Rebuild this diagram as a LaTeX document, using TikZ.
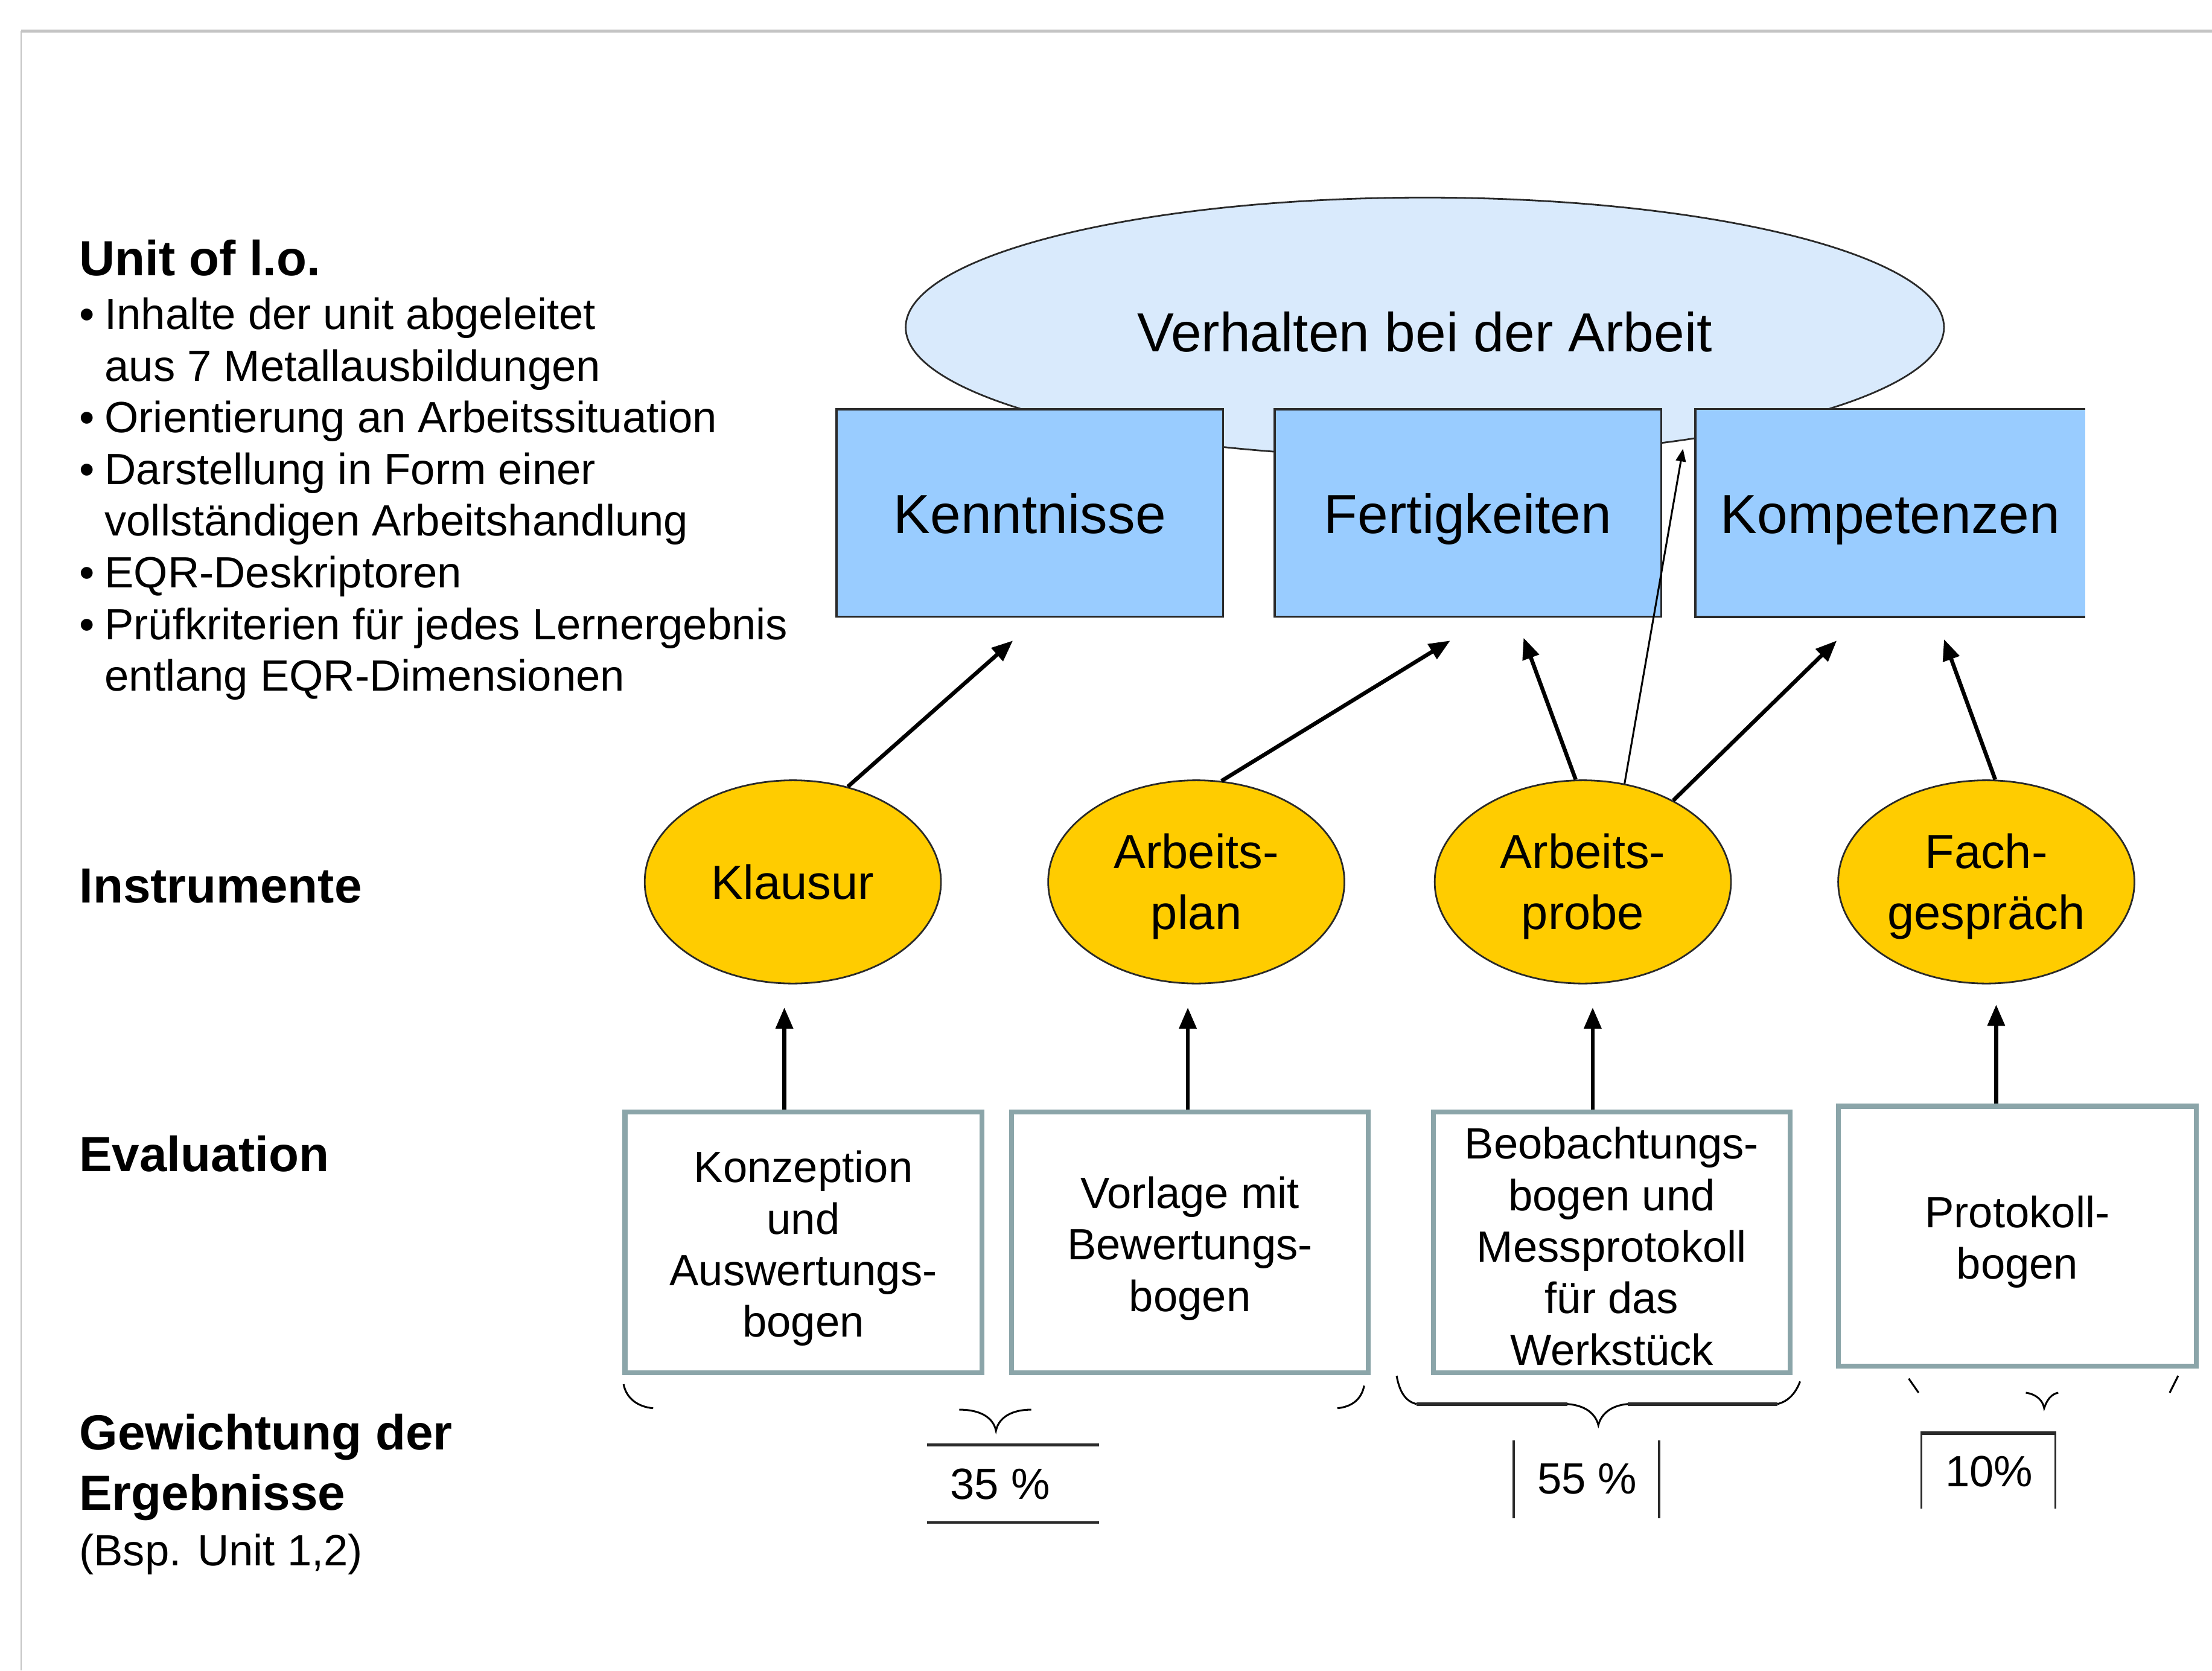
\documentclass[tikz,border=0pt]{standalone}
\usepackage{fontspec}
\setmainfont{Liberation Sans}
\usetikzlibrary{shapes.geometric,arrows.meta,calc}
\definecolor{ellblue}{HTML}{D9EAFC}
\definecolor{boxblue}{HTML}{99CCFF}
\definecolor{instyellow}{HTML}{FFCC00}
\definecolor{evalborder}{HTML}{8BA5A9}
\definecolor{framegray}{HTML}{C4C4C4}
\definecolor{darkline}{HTML}{2A2A2A}
\newcommand\tstr[1]{\rule{0pt}{#1}}
\begin{document}
\begin{tikzpicture}[x=1pt,y=-1pt,
  bigfont/.style={font=\fontsize{39}{46}\selectfont},
  headfont/.style={font=\fontsize{35}{41}\selectfont\bfseries},
  listfont/.style={font=\fontsize{31}{37}\selectfont},
  txt/.style={inner sep=0pt, anchor=base west},
  kbox/.style={rectangle, fill=boxblue, draw=darkline, line width=1.5pt,
    minimum width=274, minimum height=147, inner sep=0pt, bigfont,
    text height=37pt, text depth=8pt},
  kboxopen/.style={rectangle, fill=boxblue, minimum width=276,
    minimum height=147, inner sep=0pt, bigfont,
    text height=37pt, text depth=8pt},
  inst/.style={ellipse, fill=instyellow, draw=darkline, line width=1.2pt,
    minimum width=210, minimum height=144, inner sep=0pt, align=center,
    font=\fontsize{34}{43}\selectfont},
  evalbox/.style={rectangle, fill=white, draw=evalborder, line width=3.5pt,
    minimum width=253, minimum height=185, inner sep=0pt, align=center,
    font=\fontsize{31}{36.5}\selectfont},
  arr/.style={line width=2.8pt, -{Triangle[length=15pt,width=12pt]}},
  thinarr/.style={line width=1.3pt, -{Triangle[length=9pt,width=7pt]}},
  bracepen/.style={line width=1.3pt, black},
  pctline/.style={line width=2pt, darkline},
  pct/.style={inner sep=0pt, font=\fontsize{31}{37}\selectfont}
]
\useasboundingbox (0,0) rectangle (1568,1184);
\fill[white] (0,0) rectangle (1568,1184);
% frame
\draw[framegray, line width=2pt] (15,22) -- (1568,22);
\draw[framegray, line width=1pt] (15,22) -- (15,1184);

% top ellipse
\node[ellipse, fill=ellblue, draw=darkline, line width=1.2pt,
  minimum width=736, minimum height=184, inner sep=0pt, bigfont,
  text height=34.5pt, text depth=0pt]
  (verh) at (1010,232) {Verhalten bei der Arbeit};

% knowledge boxes
\node[kbox] (kenn) at (730,363.5) {Kenntnisse};
\node[kbox] (fert) at (1040.5,363.5) {Fertigkeiten};
\node[kboxopen] (komp) at (1340,363.5) {Kompetenzen};
\draw[darkline, line width=1.5pt] (komp.north east) -- (komp.north west)
  -- (komp.south west) -- (komp.south east);

% instruments
\node[inst] (klaus) at (562,625) {Klausur};
\node[inst] (aplan) at (848,625) {\tstr{31pt}Arbeits-\\plan};
\node[inst] (aprobe) at (1122,625) {\tstr{31pt}Arbeits-\\probe};
\node[inst] (fach) at (1408,625) {\tstr{31pt}Fach-\\gespräch};

% evaluation boxes
\node[evalbox] (e1) at (569.5,880.5) {\tstr{31pt}Konzeption\\und\\Auswertungs-\\bogen};
\node[evalbox] (e2) at (843.5,880.5) {\tstr{31pt}Vorlage mit\\Bewertungs-\\bogen};
\node[evalbox] (e3) at (1142.5,880.5) {\tstr{28pt}Beobachtungs-\\bogen und\\Messprotokoll\\für das\\Werkstück};
\node[evalbox, minimum width=254, minimum height=184] (e4) at (1430,876) {\tstr{31pt}Protokoll-\\bogen};

% arrow tips
\coordinate (t1) at (718,454);
\coordinate (t2) at (1028,454);
\coordinate (t3) at (1080,452);
\coordinate (t4) at (1193,318);
\coordinate (t5) at (1302,454);
\coordinate (t6) at (1378,453);
\draw[arr] (klaus.60) -- (t1);
\draw[arr] (aplan.76) -- (t2);
\draw[arr] (aprobe.94) -- (t3);
\draw[thinarr] (aprobe.67) -- (t4);
\draw[arr] (aprobe.42) -- (t5);
\draw[arr] (fach.85) -- (t6);

\coordinate (u1) at (556,714);
\coordinate (u2) at (842,714);
\coordinate (u3) at (1129,714);
\coordinate (u4) at (1415,712);
\draw[arr] (e1.north -| u1) -- (u1);
\draw[arr] (e2.north -| u2) -- (u2);
\draw[arr] (e3.north -| u3) -- (u3);
\draw[arr] (e4.north -| u4) -- (u4);

% left texts
\node[txt, headfont] (unit) at (56,195.5) {Unit of l.o.};
\foreach \yy/\tt/\bb [count=\i] in {
  233.5/Inhalte der unit abgeleitet/1,
  270.1/aus 7 Metallausbildungen/0,
  306.7/Orientierung an Arbeitssituation/1,
  343.3/Darstellung in Form einer/1,
  379.9/vollständigen Arbeitshandlung/0,
  416.5/EQR-Deskriptoren/1,
  453.1/Prüfkriterien für jedes Lernergebnis/1,
  489.7/entlang EQR-Dimensionen/0}{
  \node[txt, listfont] (li\i) at (74,\yy) {\tt};
  \ifnum\bb=1 \node[txt, listfont] (bu\i) at (56,\yy) {•};\fi
}
\node[txt, headfont] (instr) at (56,640) {Instrumente};
\node[txt, headfont] (evalu) at (56,830) {Evaluation};
\node[txt, headfont] (gew1) at (56,1027.5) {Gewichtung der};
\node[txt, headfont] (gew2) at (56,1070.3) {Ergebnisse};
\node[txt, listfont] (gew3) at (56,1109.5) {(Bsp. Unit 1,2)};

% braces
\draw[bracepen] (442,981) .. controls (444,991) and (452,997) .. (463,998);
\draw[bracepen] (967,982) .. controls (965,992) and (958,997) .. (948,998);
\draw[bracepen] (680,999) .. controls (694,999) and (704,1004) .. (706,1014)
  .. controls (708,1004) and (718,999) .. (731,999);

\draw[bracepen] (990,975) .. controls (992,986) and (996,993) .. (1004,995);
\draw[pctline, line width=2.6pt] (1004,995) -- (1111,995);
\draw[bracepen] (1111,995) .. controls (1124,996) and (1131,1002) .. (1133,1010)
  .. controls (1135,1002) and (1142,996) .. (1154,995);
\draw[pctline, line width=2.6pt] (1154,995) -- (1260,995);
\draw[bracepen] (1260,995) .. controls (1268,993) and (1273,987) .. (1276,979);

\draw[bracepen] (1353,977) -- (1360,987);
\draw[bracepen] (1436,987) .. controls (1443,988) and (1448,992) .. (1449,998)
  .. controls (1451,992) and (1454,988) .. (1459,987);
\draw[bracepen] (1544,975) -- (1538,987);

% percentages
\node[pct] (p35) at (709,1052) {35 \%};
\draw[pctline] (657,1024) -- (779,1024);
\draw[pctline] (657,1079) -- (779,1079);
\node[pct] (p55) at (1125,1048) {55 \%};
\draw[pctline, line width=1.5pt] (1073,1021) -- (1073,1076);
\draw[pctline, line width=1.5pt] (1176,1021) -- (1176,1076);
\node[pct] (p10) at (1410,1043) {10\%};
\draw[pctline, line width=1.5pt] (1362,1069) -- (1362,1015) -- (1457,1015) -- (1457,1069);
\draw[pctline, line width=2.5pt] (1362,1015.5) -- (1457,1015.5);
\end{tikzpicture}
\end{document}
